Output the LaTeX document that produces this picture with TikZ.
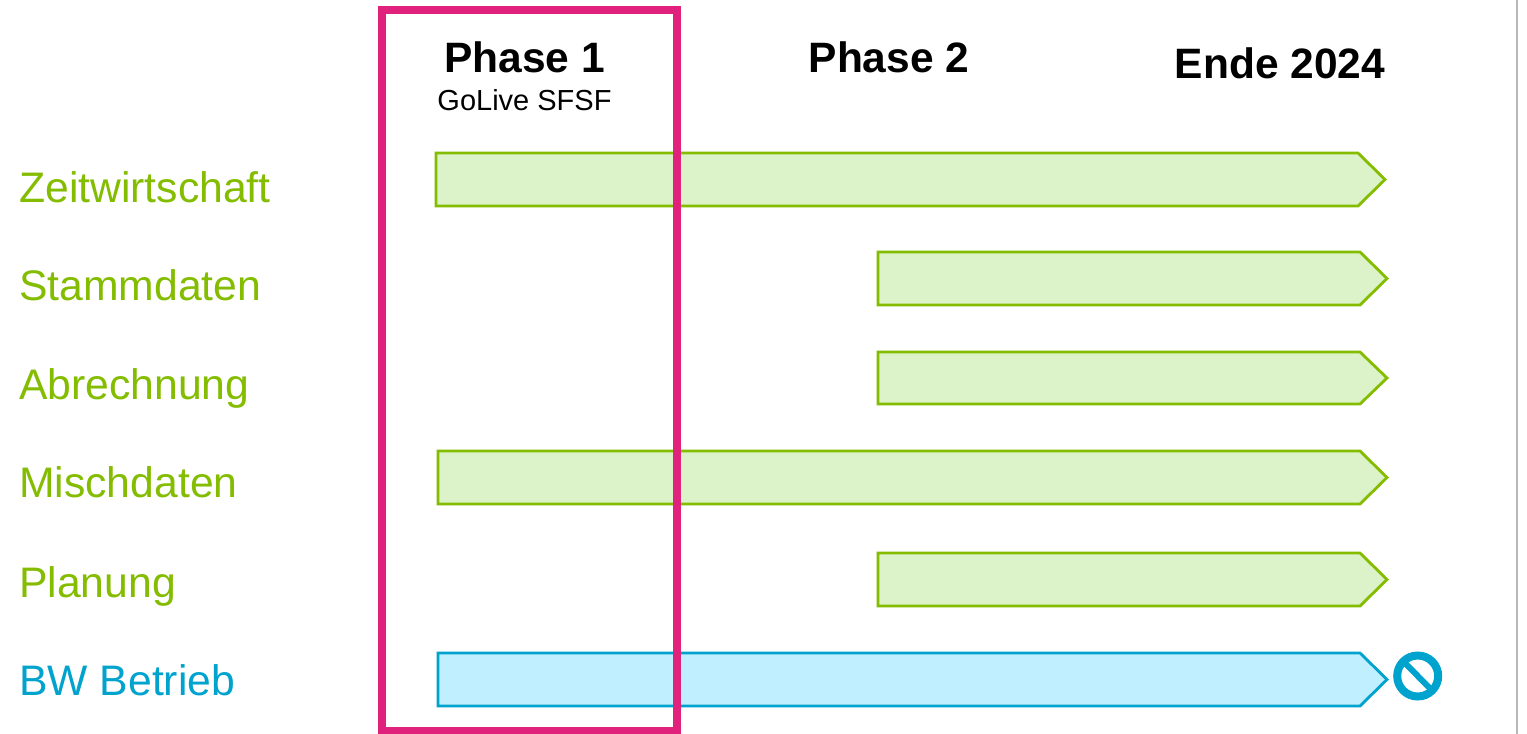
\documentclass[tikz,border=0pt]{standalone}
\usepackage{fontspec}
\setmainfont{Liberation Sans}
\definecolor{lgreen}{HTML}{84BD00}
\definecolor{fgreen}{HTML}{DCF2C8}
\definecolor{lblue}{HTML}{00A3CE}
\definecolor{fblue}{HTML}{C0F0FF}
\definecolor{pinkc}{HTML}{E0227C}
\tikzset{
  lab/.style={anchor=base west,inner sep=0pt,font=\fontsize{42.7}{46}\selectfont},
  head/.style={anchor=base,inner sep=0pt,font=\fontsize{42.5}{46}\selectfont\bfseries,text=black},
  greenbar/.style={draw=lgreen,fill=fgreen,line width=2.8pt,line join=miter},
  bluebar/.style={draw=lblue,fill=fblue,line width=2.8pt,line join=miter}
}
\newcommand{\barshape}[6]{% style, left, right, tip, top, bottom
  \path[#1] (#2,#5) -- (#3,#5) -- (#4,{(#5+#6)/2}) -- (#3,#6) -- (#2,#6) -- cycle;}
\begin{document}
\begin{tikzpicture}[x=1pt,y=-1pt]
\useasboundingbox (0,0) rectangle (1527,734);
\fill[white] (0,0) rectangle (1527,734);
\draw[line width=2.4pt,color=black!28] (1517,0) -- (1517,734);
\barshape{greenbar}{436}{1358}{1385}{153}{206}
\barshape{greenbar}{878}{1360}{1387}{252}{305}
\barshape{greenbar}{878}{1360}{1387}{352}{404}
\barshape{greenbar}{438}{1360}{1387}{451}{504}
\barshape{greenbar}{878}{1360}{1387}{553}{606}
\barshape{bluebar}{438}{1360}{1387}{653}{706}
\node[lab,text=lgreen] (z) at (19,202) {Zeitwirtschaft};
\node[lab,text=lgreen] (s) at (19,300) {Stammdaten};
\node[lab,text=lgreen] (a) at (19,399) {Abrechnung};
\node[lab,text=lgreen] (m) at (19,497) {Mischdaten};
\node[lab,text=lgreen] (p) at (19,597) {Planung};
\node[lab,text=lblue] (b) at (19,695) {BW Betrieb};
\node[head] (ph1) at (524.5,72) {Phase 1};
\node[anchor=base,inner sep=0pt,font=\fontsize{29}{32}\selectfont,text=black] (go) at (524.5,110) {GoLive SFSF};
\node[head] (ph2) at (889,72) {Phase 2};
\node[head] (en) at (1280,78) {Ende 2024};
\draw[pinkc,line width=8pt,line join=miter] (381.5,10) rectangle (677,731);
\draw[lblue,line width=8pt] (1417.7,676) circle (20.5);
\draw[lblue,line width=6pt] (1403,661) -- (1432,690.5);
\end{tikzpicture}
\end{document}
